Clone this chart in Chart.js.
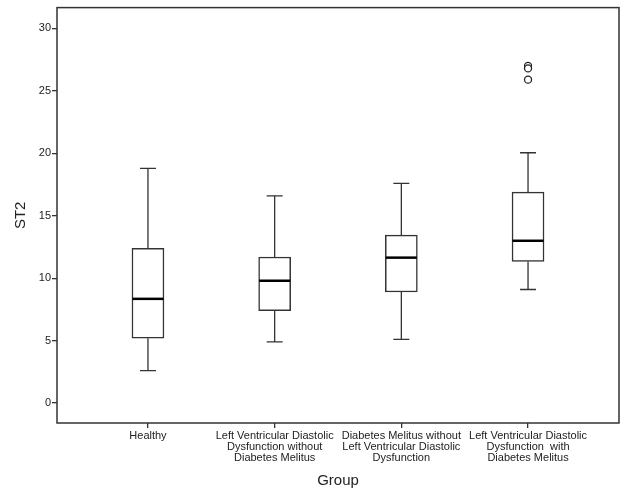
<!DOCTYPE html>
<html>
<head>
<meta charset="utf-8">
<script src="https://cdn.jsdelivr.net/npm/chart.js@4"></script>
<style>
  html, body { margin: 0; padding: 0; background: #fff; }
  #wrap { width: 625px; height: 500px; }
</style>
</head>
<body>
<div id="wrap"><canvas id="st2-box"></canvas></div>
<script>
const groups = [
  ['Healthy'],
  ['Left Ventricular Diastolic', 'Dysfunction without', 'Diabetes Melitus'],
  ['Diabetes Melitus without', 'Left Ventricular Diastolic', 'Dysfunction'],
  ['Left Ventricular Diastolic', 'Dysfunction  with', 'Diabetes Melitus']
];
const whiskerLow = [2.6, 4.9, 5.1, 9.1];
const q1 = [5.2, 7.4, 8.9, 11.35];
const median = [8.35, 9.8, 11.65, 13.0];
const q3 = [12.4, 11.7, 13.45, 16.9];
const whiskerHigh = [18.8, 16.6, 17.6, 20.05];
const outlierGroup = [3, 3, 3];
const outlierValues = [27.0, 26.8, 25.9];
const yTicks = [0, 5, 10, 15, 20, 25, 30];

const lineColor = '#333';
const textColor = '#222';

// whiskers behind the boxes, medians on top
const boxParts = {
  id: 'boxParts',
  beforeDatasetsDraw(chart) {
    const { ctx, scales: { x, y } } = chart;
    ctx.save();
    ctx.strokeStyle = lineColor;
    ctx.lineWidth = 1.3;
    groups.forEach((g, i) => {
      const cx = x.getPixelForValue(i);
      const lo = y.getPixelForValue(whiskerLow[i]);
      const hi = y.getPixelForValue(whiskerHigh[i]);
      ctx.beginPath();
      ctx.moveTo(cx, lo); ctx.lineTo(cx, y.getPixelForValue(q1[i]));
      ctx.moveTo(cx, hi); ctx.lineTo(cx, y.getPixelForValue(q3[i]));
      ctx.moveTo(cx - 8, lo); ctx.lineTo(cx + 8, lo);
      ctx.moveTo(cx - 8, hi); ctx.lineTo(cx + 8, hi);
      ctx.stroke();
    });
    ctx.restore();
  },
  afterDatasetsDraw(chart) {
    const { ctx, scales: { x, y } } = chart;
    ctx.save();
    ctx.strokeStyle = '#000';
    ctx.lineWidth = 2.5;
    groups.forEach((g, i) => {
      const cx = x.getPixelForValue(i);
      const m = y.getPixelForValue(median[i]);
      ctx.beginPath();
      ctx.moveTo(cx - 15.5, m); ctx.lineTo(cx + 15.5, m);
      ctx.stroke();
    });
    ctx.restore();
  },
  afterDraw(chart) {
    const { ctx, chartArea: a } = chart;
    ctx.save();
    ctx.strokeStyle = lineColor;
    ctx.lineWidth = 1.5;
    ctx.strokeRect(a.left, a.top, a.right - a.left, a.bottom - a.top);
    ctx.restore();
  }
};

new Chart(document.getElementById('st2-box').getContext('2d'), {
  type: 'bar',
  data: {
    datasets: [{
      label: 'box',
      data: groups.map((g, i) => ({ x: i, y: [q1[i], q3[i]] })),
      backgroundColor: '#fff',
      borderColor: lineColor,
      borderWidth: 1.5,
      borderSkipped: false,
      barThickness: 32
    }, {
      type: 'scatter',
      label: 'outliers',
      data: outlierValues.map((v, i) => ({ x: outlierGroup[i], y: v })),
      pointStyle: 'circle',
      radius: 3.5,
      backgroundColor: '#fff',
      borderColor: '#222',
      borderWidth: 1.3
    }]
  },
  options: {
    responsive: true,
    maintainAspectRatio: false,
    animation: false,
    layout: { padding: { top: 5, right: 6, left: 0, bottom: 0 } },
    plugins: {
      legend: { display: false },
      tooltip: { enabled: false }
    },
    scales: {
      x: {
        type: 'linear',
        offset: false,
        min: -0.718,
        max: 3.718,
        afterBuildTicks: (s) => { s.ticks = groups.map((g, i) => ({ value: i })); },
        afterFit: (s) => { s.height = 77; },
        grid: { offset: false, drawOnChartArea: false, tickLength: 5, color: lineColor, lineWidth: 1.3 },
        border: { display: false },
        ticks: {
          autoSkip: false,
          maxRotation: 0,
          padding: 3,
          color: textColor,
          font: { family: 'Liberation Sans', size: 11, lineHeight: 0.98 },
          callback: (v) => groups[v]
        },
        title: {
          display: true,
          text: 'Group',
          color: textColor,
          font: { family: 'Liberation Sans', size: 15 },
          padding: { top: 0, bottom: 10 }
        }
      },
      y: {
        min: -1.59,
        max: 31.67,
        afterBuildTicks: (s) => { s.ticks = yTicks.map(v => ({ value: v })); },
        afterFit: (s) => { s.width = 57; },
        grid: { drawOnChartArea: false, tickLength: 5, color: lineColor, lineWidth: 1.3 },
        border: { display: false },
        ticks: {
          padding: 1,
          color: textColor,
          font: { family: 'Liberation Sans', size: 11 }
        },
        title: {
          display: true,
          text: 'ST2',
          color: textColor,
          font: { family: 'Liberation Sans', size: 15 },
          padding: { top: 12, bottom: 0 }
        }
      }
    }
  },
  plugins: [boxParts]
});
</script>
</body>
</html>
